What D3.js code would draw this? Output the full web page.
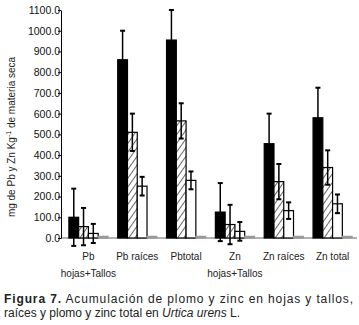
<!DOCTYPE html>
<html>
<head>
<meta charset="utf-8">
<script src="https://cdn.jsdelivr.net/npm/d3@7"></script>
<style>
  body { margin: 0; background: #fff; }
  text { font-family: "Liberation Sans", Arial, sans-serif; }
</style>
</head>
<body>
<div id="chart"></div>
<script>
// data (mg/kg, mean and error)
const categories = [['Pb', 'hojas+Tallos'], ['Pb raíces'], ['Pbtotal'], ['Zn', 'hojas+Tallos'], ['Zn raíces'], ['Zn total']]
const seriesKeys = ['s1', 's2', 's3', 's4']
const serie1 = [100, 860, 955, 125, 455, 580]
const error1 = [138, 140, 145, 140, 145, 145]
const serie2 = [55, 510, 565, 65, 272, 340]
const error2 = [90, 90, 85, 95, 85, 83]
const serie3 = [22, 250, 278, 32, 132, 165]
const error3 = [46, 45, 43, 45, 40, 45]
const serie4 = [8, 8, 8, 8, 8, 8]
const error4 = [0, 0, 0, 0, 0, 0]
const yTicks = [0, 100, 200, 300, 400, 500, 600, 700, 800, 900, 1000, 1100]

const width = 359,
  height = 325

const svg = d3
  .select('#chart')
  .append('svg')
  .attr('width', width)
  .attr('height', height)

// hatch pattern for the 2nd series
svg
  .append('defs')
  .append('pattern')
  .attr('id', 'hatch')
  .attr('patternUnits', 'userSpaceOnUse')
  .attr('width', 5)
  .attr('height', 5)
  .attr('patternTransform', 'rotate(35)')
  .call(p => {
    p.append('rect').attr('width', 5).attr('height', 5).attr('fill', '#fff')
    p.append('line')
      .attr('x1', 0).attr('y1', 0).attr('x2', 0).attr('y2', 5)
      .attr('stroke', '#000').attr('stroke-width', 1.2)
  })

const x0 = d3
  .scaleBand()
  .domain(categories.map(d => d.join(' ')))
  .range([64, 357])
  .paddingInner(0.2)
  .paddingOuter(0.1)

const x1 = d3.scaleBand().domain(seriesKeys).range([0, x0.bandwidth()])

const y = d3.scaleLinear().domain([0, 1100]).range([238, 10])

const fills = {
  s1: '#000',
  s2: 'url(#hatch)',
  s3: '#fff',
  s4: '#999'
}
const strokes = { s1: '#000', s2: '#000', s3: '#000', s4: '#999' }

const rows = categories.map((c, i) => ({
  cat: c.join(' '),
  bars: [
    { key: 's1', v: serie1[i], e: error1[i] },
    { key: 's2', v: serie2[i], e: error2[i] },
    { key: 's3', v: serie3[i], e: error3[i] },
    { key: 's4', v: serie4[i], e: error4[i] }
  ]
}))

// zero line
svg
  .append('line')
  .attr('x1', 61)
  .attr('x2', 357)
  .attr('y1', y(0))
  .attr('y2', y(0))
  .attr('stroke', '#999')
  .attr('stroke-width', 1.5)

const group = svg
  .append('g')
  .selectAll('g')
  .data(rows)
  .enter()
  .append('g')
  .attr('transform', d => 'translate(' + x0(d.cat) + ',0)')

group
  .selectAll('rect')
  .data(d => d.bars)
  .enter()
  .append('rect')
  .attr('x', d => x1(d.key))
  .attr('y', d => y(d.v))
  .attr('width', x1.bandwidth())
  .attr('height', d => y(0) - y(d.v))
  .attr('fill', d => fills[d.key])
  .attr('stroke', d => strokes[d.key])
  .attr('stroke-width', 1.2)

// error bars
const err = group
  .selectAll('g.err')
  .data(d => d.bars.filter(b => b.e > 0))
  .enter()
  .append('g')
  .attr('class', 'err')
  .attr('transform', d => 'translate(' + (x1(d.key) + x1.bandwidth() / 2) + ',0)')

err
  .append('line')
  .attr('y1', d => y(d.v + d.e))
  .attr('y2', d => y(d.v - d.e))
  .attr('stroke', '#000')
  .attr('stroke-width', 1.5)

err
  .selectAll('line.cap')
  .data(d => [d.v + d.e, d.v - d.e])
  .enter()
  .append('line')
  .attr('class', 'cap')
  .attr('x1', -2.5)
  .attr('x2', 2.5)
  .attr('y1', d => y(d))
  .attr('y2', d => y(d))
  .attr('stroke', '#000')
  .attr('stroke-width', 2)

// y axis
const yAxis = svg
  .append('g')
  .attr('transform', 'translate(61,0)')
  .call(
    d3
      .axisLeft(y)
      .tickValues(yTicks)
      .tickFormat(d3.format('.1f'))
      .tickSize(3)
      .tickSizeOuter(0)
  )
yAxis.select('.domain').attr('stroke', '#000')
yAxis
  .selectAll('text')
  .attr('x', -1)
  .attr('font-size', 10.5)
  .attr('fill', '#111')
  .style('font-family', '"Liberation Sans", Arial, sans-serif')

// y label
const yl = svg
  .append('text')
  .attr('transform', 'translate(15,137) rotate(-90)')
  .attr('text-anchor', 'middle')
  .attr('font-size', 10)
  .attr('fill', '#222')
yl.append('tspan').text('mg de Pb y Zn Kg')
yl.append('tspan').attr('font-size', 7).attr('dy', -4).text('-1')
yl.append('tspan').attr('dy', 4).text(' de materia seca')

// category labels
const cl = svg
  .append('g')
  .selectAll('text')
  .data(categories)
  .enter()
  .append('text')
  .attr('text-anchor', 'middle')
  .attr('font-size', 10)
  .attr('fill', '#222')
  .attr('transform', d => 'translate(' + (x0(d.join(' ')) + x0.bandwidth() / 2) + ',260)')

cl.selectAll('tspan')
  .data(d => d)
  .enter()
  .append('tspan')
  .attr('x', 0)
  .attr('dy', (d, i) => (i === 0 ? 0 : 17))
  .text(d => d)

// caption
const c1 = svg
  .append('text')
  .attr('x', 4)
  .attr('y', 303)
  .attr('font-size', 12)
  .attr('fill', '#222')
  .attr('textLength', 349)
  .attr('lengthAdjust', 'spacing')
c1.append('tspan').attr('font-weight', 'bold').text('Figura 7.')
c1.append('tspan').text(' Acumulación de plomo y zinc en hojas y tallos,')

const c2 = svg
  .append('text')
  .attr('x', 4)
  .attr('y', 317)
  .attr('font-size', 12)
  .attr('fill', '#222')
c2.append('tspan').text('raíces y plomo y zinc total en ')
c2.append('tspan').attr('font-style', 'italic').text('Urtica urens')
c2.append('tspan').text(' L.')
</script>
</body>
</html>
